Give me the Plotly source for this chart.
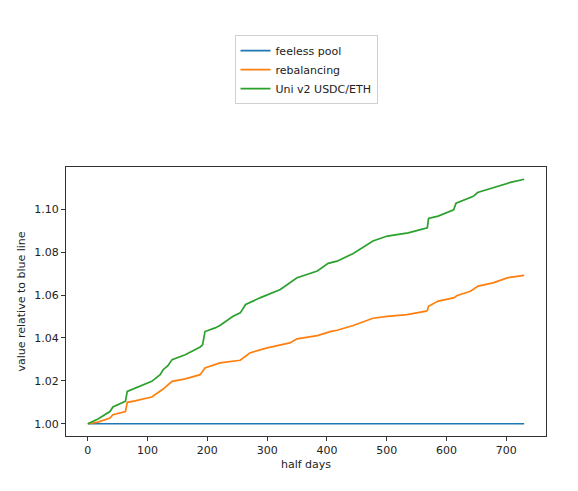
import plotly.graph_objects as go

# half-day index and value series
feeless_x = [0, 730]
feeless_y = [1.0, 1.0]

reb_x = [0, 17, 37, 42, 63, 66, 79, 107, 126, 141, 163, 188, 196, 213, 221, 255,
         271, 300, 338, 350, 384, 407, 417, 444, 477, 501, 534, 566, 568, 570,
         586, 612, 618, 640, 653, 678, 703, 730]
reb_y = [1.000, 1.0008, 1.0027, 1.0042, 1.0057, 1.0100, 1.0107, 1.0125, 1.0162,
         1.0198, 1.0209, 1.0229, 1.0260, 1.0276, 1.0284, 1.0296, 1.0330, 1.0354,
         1.0377, 1.0396, 1.0411, 1.0431, 1.0436, 1.0458, 1.0492, 1.0501, 1.0509,
         1.0525, 1.0528, 1.0548, 1.0572, 1.0587, 1.0598, 1.0618, 1.0642, 1.0657,
         1.0681, 1.0692]

uni_x = [0, 17, 37, 42, 62, 63, 66, 79, 107, 121, 126, 134, 141, 163, 188, 192,
         195, 196, 213, 221, 243, 255, 264, 288, 322, 350, 384, 402, 417, 444,
         477, 501, 536, 566, 568, 570, 586, 612, 616, 645, 652, 707, 730]
uni_y = [1.000, 1.0022, 1.0057, 1.0078, 1.0104, 1.0106, 1.0151, 1.0167, 1.0198,
         1.0229, 1.0252, 1.0271, 1.0299, 1.0322, 1.0358, 1.0368, 1.0420, 1.0430,
         1.0447, 1.0458, 1.0501, 1.0517, 1.0556, 1.0587, 1.0626, 1.0681, 1.0712,
         1.0748, 1.0758, 1.0794, 1.0852, 1.0875, 1.0890, 1.0912, 1.0914, 1.0957,
         1.0968, 1.0997, 1.1028, 1.1060, 1.1078, 1.1125, 1.1140]

x_ticks = [0, 100, 200, 300, 400, 500, 600, 700]
y_ticks = [1.00, 1.02, 1.04, 1.06, 1.08, 1.10]

fig = go.Figure()
fig.add_trace(go.Scatter(x=feeless_x, y=feeless_y, mode="lines", name="feeless pool",
                         line=dict(color="#1f77b4", width=1.7)))
fig.add_trace(go.Scatter(x=reb_x, y=reb_y, mode="lines", name="rebalancing",
                         line=dict(color="#ff7f0e", width=1.7)))
fig.add_trace(go.Scatter(x=uni_x, y=uni_y, mode="lines", name="Uni v2 USDC/ETH",
                         line=dict(color="#2ca02c", width=1.7)))

axis_common = dict(showline=True, linecolor="#333", linewidth=1, mirror=True,
                   ticks="outside", ticklen=4, tickcolor="#333", showgrid=False,
                   zeroline=False, tickfont=dict(size=11, color="#222"),
                   automargin=False)

fig.update_layout(
    width=578, height=491,
    margin=dict(l=66, r=32, t=167, b=55, autoexpand=False),
    paper_bgcolor="white", plot_bgcolor="white",
    font=dict(family="DejaVu Sans", size=11, color="#222"),
    xaxis=dict(range=[-36.5, 766.5], tickvals=x_ticks, tickangle=0,
               title=dict(text="half days", standoff=4, font=dict(size=11)), **axis_common),
    yaxis=dict(range=[0.9943, 1.1197], tickvals=y_ticks, tickformat=".2f",
               title=dict(text="value relative to blue line", standoff=6, font=dict(size=11)),
               **axis_common),
    legend=dict(x=0.5, y=1.49, xanchor="center", yanchor="top",
                bordercolor="#d0d0d0", borderwidth=1,
                bgcolor="white", font=dict(size=11), tracegroupgap=0),
    showlegend=True,
)

fig.write_html("out.html")
